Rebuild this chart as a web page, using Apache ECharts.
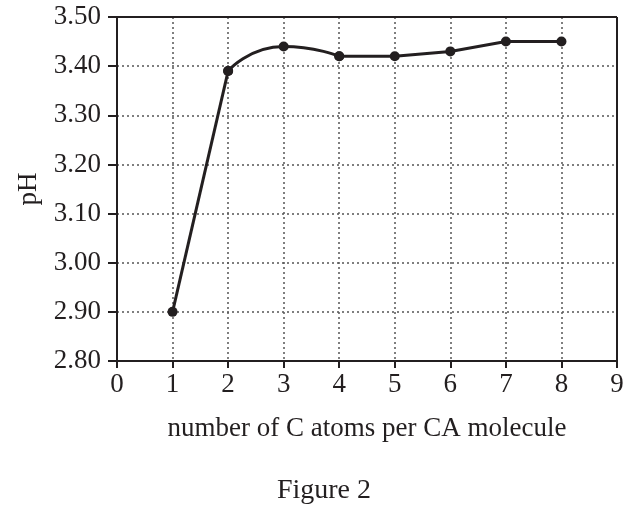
<!DOCTYPE html>
<html>
<head>
<meta charset="utf-8">
<script src="https://cdn.jsdelivr.net/npm/echarts@6/dist/echarts.min.js"></script>
<style>html,body{margin:0;padding:0;background:#fff}#c{width:643px;height:519px}</style>
</head>
<body>
<div id="c"></div>
<script>
var carbonAtoms = [1, 2, 3, 4, 5, 6, 7, 8];
var phValues = [2.90, 3.39, 3.44, 3.42, 3.42, 3.43, 3.45, 3.45];
var xTicks = [0, 1, 2, 3, 4, 5, 6, 7, 8, 9];
var yTicks = [2.80, 2.90, 3.00, 3.10, 3.20, 3.30, 3.40, 3.50];

var font = 'Liberation Serif';
var ink = '#231f20';
var pts = carbonAtoms.map(function (x, i) { return [x, phValues[i]]; });
var chart = echarts.init(document.getElementById('c'));
var lineBase = {
  type: 'line', symbol: 'circle', symbolSize: 10,
  lineStyle: {color: ink, width: 3}, itemStyle: {color: ink}
};
chart.setOption({
  animation: false,
  backgroundColor: '#fff',
  title: {
    text: 'Figure 2',
    left: 319, top: 472, textAlign: 'center',
    textStyle: {fontFamily: font, fontSize: 28, fontWeight: 'normal', color: ink}
  },
  grid: {left: 117, right: 26, top: 17, bottom: 158, show: false},
  xAxis: {
    type: 'value', min: xTicks[0], max: xTicks[xTicks.length - 1], interval: 1,
    name: 'number of C atoms per CA molecule',
    nameLocation: 'middle', nameGap: 54,
    nameTextStyle: {fontFamily: font, fontSize: 27, color: ink},
    axisLine: {show: true, onZero: false, lineStyle: {color: ink, width: 2}},
    axisTick: {show: true, length: 7, lineStyle: {color: ink, width: 2}},
    axisLabel: {fontFamily: font, fontSize: 27, color: ink, margin: 10},
    splitLine: {show: true, lineStyle: {color: '#555', type: [2, 3], width: 1.5}}
  },
  yAxis: {
    type: 'value', min: yTicks[0], max: yTicks[yTicks.length - 1], interval: 0.1,
    name: 'pH', nameLocation: 'middle', nameGap: 75, nameRotate: 90,
    nameTextStyle: {fontFamily: font, fontSize: 27, color: ink},
    axisLine: {show: true, lineStyle: {color: ink, width: 2}},
    axisTick: {show: true, length: 9, lineStyle: {color: ink, width: 2}},
    axisLabel: {fontFamily: font, fontSize: 27, color: ink, margin: 16,
      formatter: function (v) { return v.toFixed(2); }},
    splitLine: {show: true, lineStyle: {color: '#555', type: [2, 3], width: 1.5}}
  },
  series: [
    Object.assign({}, lineBase, {data: pts.slice(0, 2), smooth: false}),
    Object.assign({}, lineBase, {data: pts.slice(1, 4), smooth: 0.6}),
    Object.assign({}, lineBase, {data: pts.slice(3), smooth: false}),
    {
      type: 'line', data: [],
      markLine: {
        silent: true, symbol: 'none', label: {show: false},
        lineStyle: {color: ink, width: 2, type: 'solid'},
        data: [[{coord: [xTicks[0], yTicks[yTicks.length - 1]]}, {coord: [xTicks[xTicks.length - 1], yTicks[yTicks.length - 1]]}],
               [{coord: [xTicks[xTicks.length - 1], yTicks[0]]}, {coord: [xTicks[xTicks.length - 1], yTicks[yTicks.length - 1]]}]]
      }
    }
  ]
});
</script>
</body>
</html>
